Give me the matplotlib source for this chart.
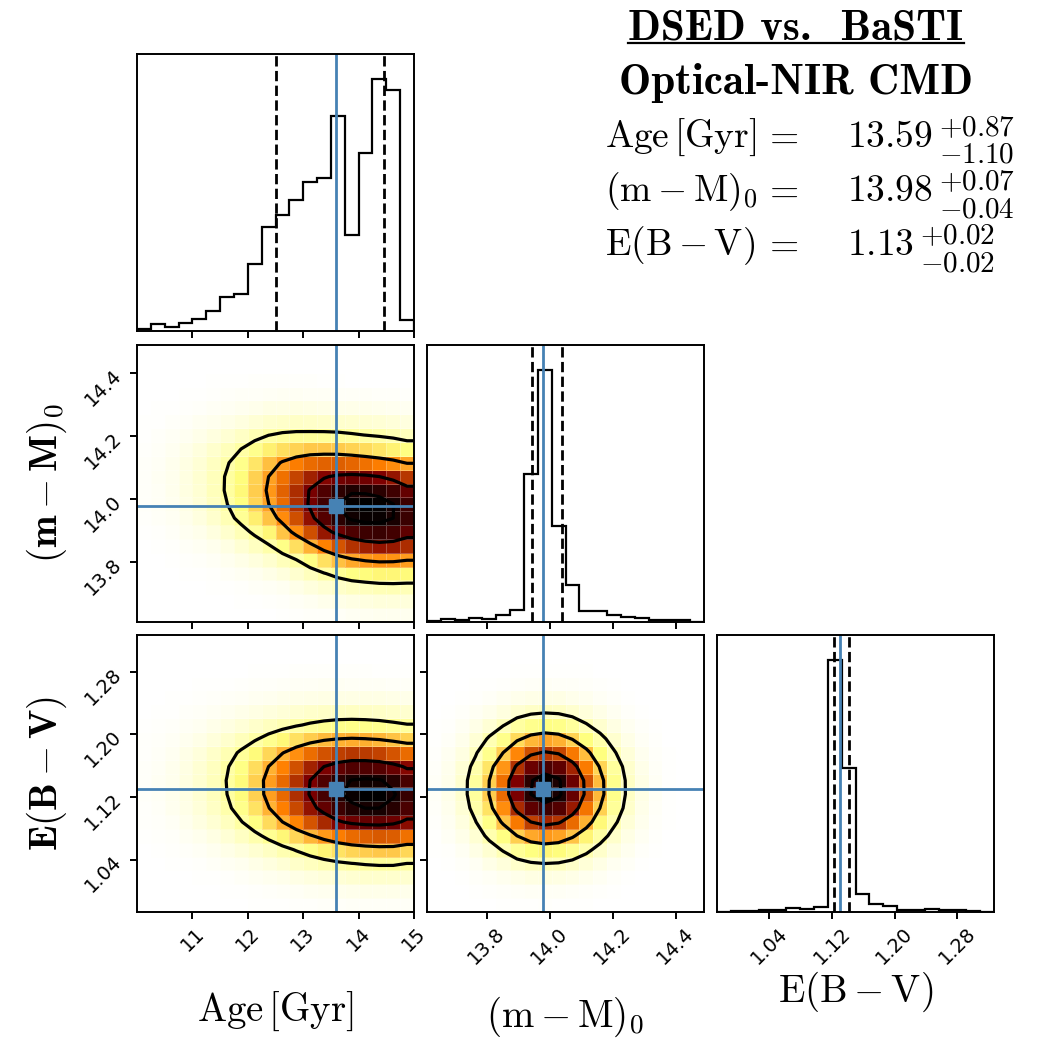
import os
import numpy as np
import matplotlib
matplotlib.use("Agg")
import matplotlib.pyplot as plt
from matplotlib.font_manager import FontProperties
from matplotlib.lines import Line2D

plt.rcParams['mathtext.fontset'] = 'cm'
plt.rcParams['font.family'] = ['DejaVu Sans']
plt.rcParams['axes.linewidth'] = 1.4

# ---------------- data ----------------
param_labels = [r"$\mathrm{Age\,[Gyr]}$", r"$(\mathrm{m}-\mathrm{M})_0$",
                r"$\mathrm{E}(\mathrm{B}-\mathrm{V})$"]
bold_labels = [r"$\mathbf{Age\,[Gyr]}$", r"$\mathbf{(m-M)_0}$", r"$\mathbf{E(B-V)}$"]
ranges = [(10.0, 15.0), (13.61, 14.49), (0.973, 1.327)]

age_ticks = [11, 12, 13, 14, 15]
age_ticklabels = ["11", "12", "13", "14", "15"]
dm_ticks = [13.8, 14.0, 14.2, 14.4]
dm_ticklabels = ["13.8", "14.0", "14.2", "14.4"]
ebv_ticks = [1.04, 1.12, 1.20, 1.28]
ebv_ticklabels = ["1.04", "1.12", "1.20", "1.28"]

# 1D histograms (20 bins each, relative counts)
age_hist = [7, 20, 13, 25, 35, 60, 103, 110, 202, 312, 349, 392, 448, 458, 645, 287, 535, 755, 722, 33]
dm_hist = [2, 9, 5, 12, 9, 20, 37, 445, 755, 288, 112, 33, 33, 20, 16, 12, 7, 5, 5, 1]
ebv_hist = [0, 2, 3, 5, 7, 12, 10, 15, 755, 432, 53, 25, 17, 7, 7, 9, 5, 5, 3, 1]

# best values and quantile (dashed) lines
truths = [13.59, 13.98, 1.13]
q_low = [12.50, 13.945, 1.123]
q_high = [14.46, 14.04, 1.142]
err_plus = [0.87, 0.07, 0.02]
err_minus = [1.10, 0.04, 0.02]

# 2D smoothed densities
# Age profile (per Age bin) used in both Age panels
age_profile = [0.014, 0.0235, 0.038, 0.060, 0.091, 0.134, 0.191, 0.262, 0.348, 0.448,
               0.555, 0.666, 0.773, 0.867, 0.941, 0.986, 1.0, 0.995, 0.96, 0.89]
# (m-M)0 centre of the density in each Age column
age_dm_centres = [14.06, 14.06, 14.06, 14.055, 14.055, 14.05, 14.045, 14.04, 14.035, 14.03,
                  14.02, 14.01, 14.0, 13.99, 13.982, 13.975, 13.97, 13.966, 13.963, 13.96]
dm_offsets = [-0.40, -0.35, -0.30, -0.25, -0.20, -0.15, -0.10, -0.05, 0.0,
              0.05, 0.10, 0.15, 0.20, 0.25, 0.30, 0.35, 0.40]
dm_offset_profile = [0.006, 0.02, 0.055, 0.13, 0.27, 0.50, 0.78, 0.95, 1.0,
                     0.95, 0.78, 0.50, 0.27, 0.13, 0.055, 0.02, 0.006]
# E(B-V) centre of the density in each Age column
age_ebv_centres = [1.142, 1.141, 1.140, 1.139, 1.138, 1.137, 1.136, 1.135, 1.134, 1.133,
                   1.132, 1.131, 1.130, 1.129, 1.128, 1.127, 1.126, 1.125, 1.124, 1.124]
ebv_offsets = [-0.16, -0.14, -0.12, -0.10, -0.08, -0.06, -0.04, -0.02, 0.0,
               0.02, 0.04, 0.06, 0.08, 0.10, 0.12, 0.14, 0.16]
ebv_offset_profile = [0.006, 0.02, 0.055, 0.13, 0.27, 0.50, 0.78, 0.95, 1.0,
                      0.95, 0.78, 0.50, 0.27, 0.13, 0.055, 0.02, 0.006]
# (m-M)0 vs E(B-V) panel profiles (per bin)
dm_profile = [0.017, 0.043, 0.097, 0.195, 0.35, 0.54, 0.76, 0.926, 1.0, 0.953,
              0.80, 0.595, 0.39, 0.228, 0.117, 0.053, 0.021, 0.0075, 0.0025, 0.0007]
ebv_profile = [0.008, 0.023, 0.06, 0.135, 0.265, 0.45, 0.67, 0.87, 0.99, 0.98,
               0.845, 0.635, 0.42, 0.24, 0.12, 0.053, 0.02, 0.0068, 0.002, 0.0005]

contour_sigmas = [0.5, 1.0, 1.5, 2.0]

title_text = "DSED vs.  BaSTI"
subtitle_text = "Optical-NIR CMD"

# ---------------- helpers ----------------
NB = 20
edges = [np.linspace(r[0], r[1], NB + 1) for r in ranges]
centres = [0.5 * (e[1:] + e[:-1]) for e in edges]

truth_color = "#4682b4"


def shifted_grid(xprof, ycent, yc, offsets, prof):
    H = np.zeros((NB, NB))
    for j in range(NB):
        H[:, j] = xprof[j] * np.interp(yc - ycent[j], offsets, prof, left=0.0, right=0.0)
    return H


def levels_for(H):
    lv = 1.0 - np.exp(-0.5 * np.array(contour_sigmas) ** 2)
    Hflat = np.sort(H.ravel())[::-1]
    sm = np.cumsum(Hflat)
    sm /= sm[-1]
    V = []
    for v0 in lv:
        sel = Hflat[sm <= v0]
        V.append(sel[-1] if len(sel) else Hflat[0])
    return sorted(V)


def draw_2d(ax, H, xe, ye, xc, yc):
    ax.pcolormesh(xe, ye, H, cmap="afmhot_r", vmin=0, vmax=H.max(),
                  edgecolors=(1, 1, 1, 0.25), linewidth=0.4, rasterized=True)
    dx = xc[1] - xc[0]
    dy = yc[1] - yc[0]
    H2 = np.zeros((NB + 4, NB + 4)) + H.min()
    H2[2:-2, 2:-2] = H
    H2[2:-2, 1] = H[:, 0]
    H2[2:-2, -2] = H[:, -1]
    H2[1, 2:-2] = H[0]
    H2[-2, 2:-2] = H[-1]
    H2[1, 1] = H[0, 0]
    H2[1, -2] = H[0, -1]
    H2[-2, 1] = H[-1, 0]
    H2[-2, -2] = H[-1, -1]
    X2 = np.concatenate([xc[0] + np.array([-2, -1]) * dx, xc, xc[-1] + np.array([1, 2]) * dx])
    Y2 = np.concatenate([yc[0] + np.array([-2, -1]) * dy, yc, yc[-1] + np.array([1, 2]) * dy])
    ax.contour(X2, Y2, H2, levels_for(H), colors="k", linewidths=2.3)


# ---------------- figure ----------------
fig = plt.figure(figsize=(10.5, 10.5), dpi=100)
W = 1050.0
col_left = [137, 427, 717]
row_top = [54, 345, 635]
size = 277

axes = {}
for i in range(3):
    for j in range(i + 1):
        ax = fig.add_axes([col_left[j] / W, 1 - (row_top[i] + size) / W, size / W, size / W])
        axes[(i, j)] = ax

tick_sets = [(age_ticks, age_ticklabels), (dm_ticks, dm_ticklabels), (ebv_ticks, ebv_ticklabels)]
hists = [age_hist, dm_hist, ebv_hist]

for k in range(3):
    ax = axes[(k, k)]
    ax.stairs(hists[k], edges[k], color="k", lw=1.6)
    ax.set_xlim(*ranges[k])
    ax.set_ylim(0, 1.1 * max(hists[k]))
    ax.set_yticks([])
    ax.axvline(q_low[k], color="k", ls="--", lw=2.0)
    ax.axvline(q_high[k], color="k", ls="--", lw=2.0)
    ax.axvline(truths[k], color=truth_color, lw=2.0)

H_a = shifted_grid(age_profile, age_dm_centres, centres[1], dm_offsets, dm_offset_profile)
H_b = shifted_grid(age_profile, age_ebv_centres, centres[2], ebv_offsets, ebv_offset_profile)
H_c = np.outer(ebv_profile, dm_profile)

for (i, j), H in [((1, 0), H_a), ((2, 0), H_b), ((2, 1), H_c)]:
    ax = axes[(i, j)]
    draw_2d(ax, H, edges[j], edges[i], centres[j], centres[i])
    ax.axvline(truths[j], color=truth_color, lw=2.0)
    ax.axhline(truths[i], color=truth_color, lw=2.0)
    ax.plot(truths[j], truths[i], "s", color=truth_color, ms=9.5)
    ax.set_xlim(*ranges[j])
    ax.set_ylim(*ranges[i])

for (i, j), ax in axes.items():
    t, tl = tick_sets[j]
    ax.set_xticks(t)
    if i == 2:
        ax.set_xticklabels(tl, rotation=45, fontsize=14)
    else:
        ax.set_xticklabels([])
    if i != j:
        t, tl = tick_sets[i]
        ax.set_yticks(t)
        if j == 0:
            ax.set_yticklabels(tl, rotation=45, fontsize=14)
        else:
            ax.set_yticklabels([])
    ax.tick_params(direction="out", length=5, width=1.4)

# axis labels
for j, yoff in zip(range(3), [-0.28, -0.30, -0.21]):
    ax = axes[(2, j)]
    ax.set_xlabel(param_labels[j], fontsize=28)
    ax.xaxis.set_label_coords(0.5, yoff)
for i in (1, 2):
    ax = axes[(i, 0)]
    ax.set_ylabel(bold_labels[i], fontsize=28)
    ax.yaxis.set_label_coords(-0.245, 0.5)

# text block
cmb = FontProperties(fname=os.path.join(matplotlib.get_data_path(), "fonts", "ttf", "cmb10.ttf"), size=31)
t1 = fig.text(796 / W, 1 - 39 / W, title_text, ha="center", va="baseline", fontproperties=cmb)
fig.text(796 / W, 1 - 94 / W, subtitle_text, ha="center", va="baseline", fontproperties=cmb)
fig.canvas.draw()
renderer = fig.canvas.get_renderer()
bb = t1.get_window_extent(renderer)
fig.add_artist(Line2D([bb.x0 / W, bb.x1 / W], [1 - 43.5 / W] * 2, color="k", lw=1.6))

baselines = [147, 201, 255]
for k in range(3):
    yb = baselines[k]
    fig.text(605 / W, 1 - yb / W, param_labels[k], ha="left", va="baseline", fontsize=27)
    fig.text(781 / W, 1 - yb / W, r"$=$", ha="center", va="baseline", fontsize=27)
    tv = fig.text(847 / W, 1 - yb / W, r"$%.2f$" % truths[k], ha="left", va="baseline", fontsize=27)
    xr = tv.get_window_extent(renderer).x1 + 6
    fig.text(xr / W, 1 - (yb - 11) / W, r"$+%.2f$" % err_plus[k], ha="left", va="baseline", fontsize=21)
    fig.text(xr / W, 1 - (yb + 16) / W, r"$-%.2f$" % err_minus[k], ha="left", va="baseline", fontsize=21)

fig.savefig("out.png", dpi=100)
